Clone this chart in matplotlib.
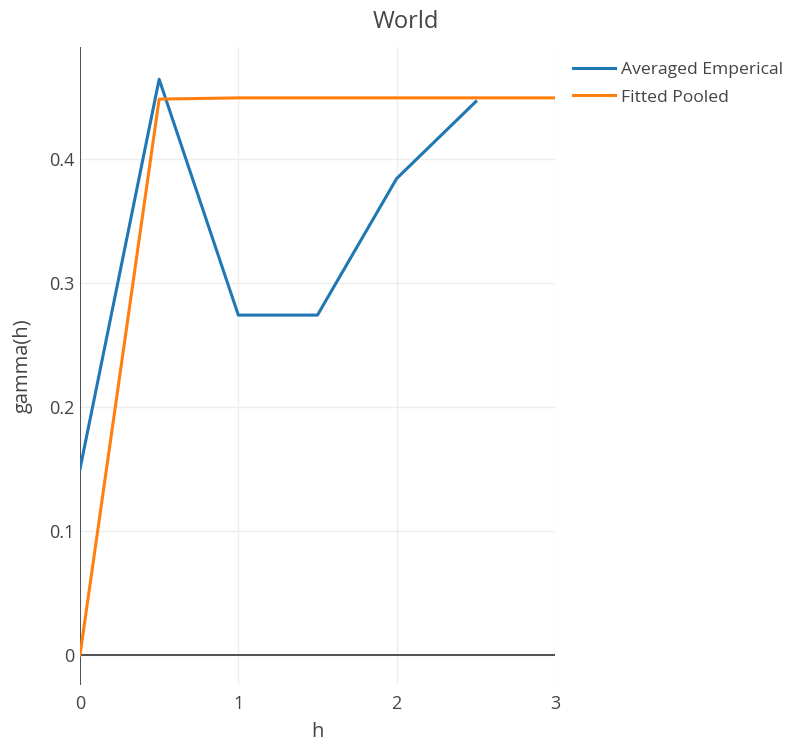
import matplotlib.pyplot as plt
import numpy as np

plt.rcParams['font.family'] = ['Open Sans', 'DejaVu Sans']

h_emp = [0, 0.5, 1.0, 1.5, 2.0, 2.5]
gamma_emp = [0.150, 0.464, 0.274, 0.274, 0.384, 0.446]

h_fit = [0, 0.5, 1.0, 1.5, 2.0, 2.5, 3.0]
gamma_fit = [0.0, 0.448, 0.449, 0.449, 0.449, 0.449, 0.449]

yticks = [0, 0.1, 0.2, 0.3, 0.4]
xticks = [0, 1, 2, 3]

txt = '#444444'
fig = plt.figure(figsize=(7.95, 7.41), dpi=100)
ax = fig.add_axes([0.1006, 0.0756, 0.5975, 0.861])

ax.plot(h_emp, gamma_emp, color='#1f77b4', lw=2.2, label='Averaged Emperical', zorder=3)
ax.plot(h_fit, gamma_fit, color='#ff7f0e', lw=2.2, label='Fitted Pooled', zorder=3)

ax.set_xlim(0, 3)
ax.set_ylim(-0.024, 0.490)
ax.set_xticks(xticks)
ax.set_yticks(yticks)
ax.set_yticklabels(['0', '0.1', '0.2', '0.3', '0.4'])
ax.grid(True, color='#eeeeee', lw=1)
ax.set_axisbelow(True)
ax.axhline(0, color='#444444', lw=1.3, zorder=2)
ax.axvline(0, color='#444444', lw=1.3, zorder=2)
for s in ax.spines.values():
    s.set_visible(False)
ax.tick_params(length=0, colors=txt, labelsize=13, pad=4)
ax.tick_params(axis='x', pad=7)

ax.set_xlabel('h', color=txt, fontsize=14.5, labelpad=7)
ax.set_ylabel('gamma(h)', color=txt, fontsize=14.5, labelpad=12)
fig.text(0.511, 1 - 22 / 741, 'World', color=txt, fontsize=17,
         ha='center', va='center')

ax.legend(loc='upper left', bbox_to_anchor=(1.038, 0.977), frameon=False,
          fontsize=12.6, labelcolor=txt, handlelength=2.4, handletextpad=0.35,
          labelspacing=0.65, borderaxespad=0, borderpad=0)

plt.savefig('out.png', dpi=100)
